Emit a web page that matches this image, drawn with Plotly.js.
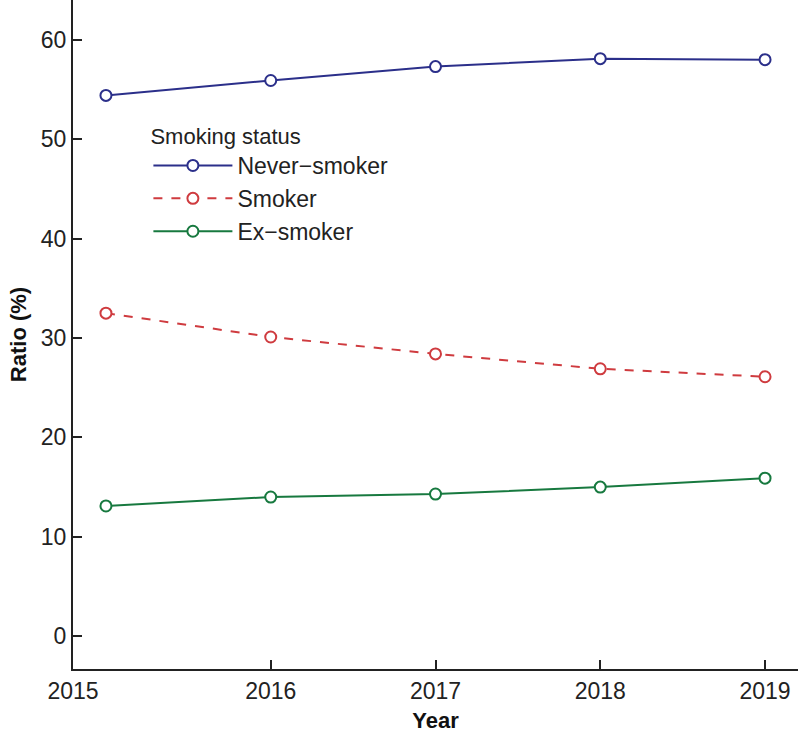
<!DOCTYPE html>
<html><head><meta charset="utf-8">
<script src="https://cdn.plot.ly/plotly-3.0.1.min.js"></script>
<style>body{margin:0;background:#fff}#chart{width:799px;height:737px}</style>
</head><body><div id="chart"></div>
<script>
const years = [2015, 2016, 2017, 2018, 2019];
const neverSmoker = [54.4, 55.9, 57.3, 58.1, 58.0];
const smoker = [32.5, 30.1, 28.4, 26.9, 26.1];
const exSmoker = [13.1, 14.0, 14.3, 15.0, 15.9];
const seriesNames = ['Never\u2212smoker', 'Smoker', 'Ex\u2212smoker'];
const xTickVals = [2014.8, 2016, 2017, 2018, 2019];
const xTickText = ['2015', '2016', '2017', '2018', '2019'];

const colors = ['#2b2f8a', '#cf3b3f', '#17793f'];
const dashes = ['solid', 'dash', 'solid'];
const ys = [neverSmoker, smoker, exSmoker];
const traces = ys.map((y, i) => ({
  x: years, y: y, name: seriesNames[i], type: 'scatter', mode: 'lines+markers',
  line: {color: colors[i], width: 2, dash: dashes[i]},
  marker: {symbol: 'circle', size: 11, color: '#ffffff', line: {color: colors[i], width: 2}}
}));
const font = {family: 'Liberation Sans, Arial, sans-serif', size: 22, color: '#222'};
const layout = {
  width: 799, height: 737,
  margin: {l: 73, r: 1, t: 0, b: 68},
  paper_bgcolor: '#fff', plot_bgcolor: '#fff',
  font: font, showlegend: true,
  legend: {x: 0.104, y: 0.8275, xanchor: 'left', yanchor: 'top', bgcolor: 'rgba(0,0,0,0)',
    title: {text: 'Smoking status', font: {size: 22, color: '#222'}},
    font: {size: 23, color: '#222'}, tracegroupgap: 0, itemwidth: 79},
  xaxis: {range: [2014.8, 2019.2], tickvals: xTickVals, ticktext: xTickText,
    ticks: 'inside', ticklen: 9, tickwidth: 2, tickcolor: '#222',
    showline: true, linewidth: 2, linecolor: '#222', showgrid: false, zeroline: false,
    tickfont: {size: 23, color: '#222'},
    title: {text: '<b>Year</b>', font: {size: 22, color: '#111'}, standoff: 10}},
  yaxis: {range: [-3.3, 64], tickvals: [0, 10, 20, 30, 40, 50, 60],
    ticks: 'inside', ticklen: 9, tickwidth: 2, tickcolor: '#222',
    showline: true, linewidth: 2, linecolor: '#222', showgrid: false, zeroline: false,
    tickfont: {size: 23, color: '#222'},
    title: {text: '<b>Ratio (%)</b>', font: {size: 22, color: '#111'}, standoff: 8}}
};
Plotly.newPlot('chart', traces, layout, {displayModeBar: false});
</script></body></html>
